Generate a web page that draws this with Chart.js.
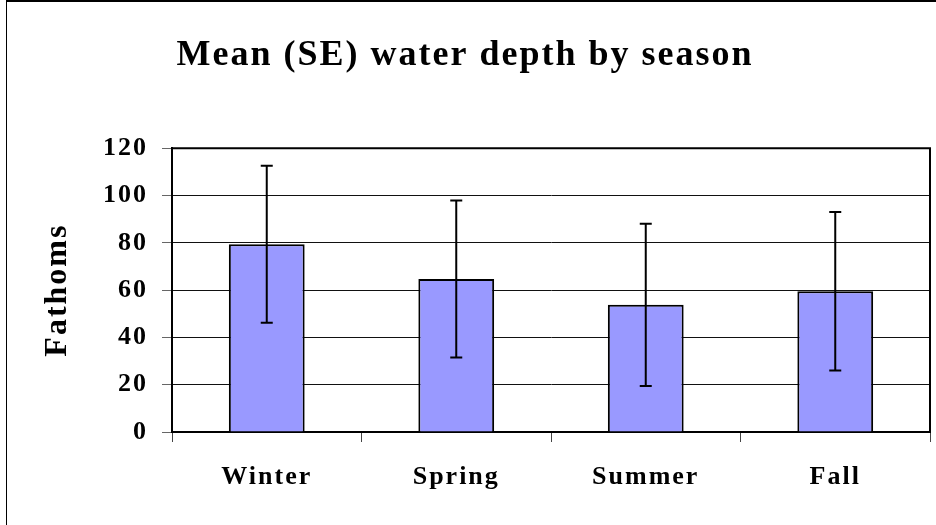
<!DOCTYPE html>
<html>
<head>
<meta charset="utf-8">
<script src="https://cdn.jsdelivr.net/npm/chart.js@4/dist/chart.umd.min.js"></script>
<style>
  html, body { margin: 0; padding: 0; background: #fff; }
  #wrap { position: relative; width: 936px; height: 525px; }
  #frame { position: absolute; left: 6px; top: 0; width: 930px; height: 525px;
           border-top: 2px solid #000; border-left: 1px solid #000; box-sizing: border-box; pointer-events: none; }
</style>
</head>
<body>
<div id="wrap">
  <canvas id="grafico" width="936" height="525"></canvas>
  <div id="frame"></div>
</div>
<script>
const estacoes = ['Winter', 'Spring', 'Summer', 'Fall'];
const medias = [79.4, 64.7, 53.8, 59.5];
const erroPadrao = [33.2, 33.2, 34.3, 33.5];
const ticksY = [0, 20, 40, 60, 80, 100, 120];

const fonteSerif = "'Liberation Serif', 'Times New Roman', serif";

// espacamento entre letras, o canvas perde isso a cada resize
const espacamento = {
  id: 'espacamento',
  beforeLayout(chart) { chart.ctx.letterSpacing = '2px'; },
  beforeDraw(chart) { chart.ctx.letterSpacing = '2px'; }
};

// moldura de cima e da direita da area do grafico
const moldura = {
  id: 'moldura',
  beforeDatasetsDraw(chart) {
    const { ctx, chartArea } = chart;
    ctx.save();
    ctx.strokeStyle = '#000';
    ctx.lineWidth = 2;
    ctx.beginPath();
    ctx.moveTo(chartArea.left, chartArea.top);
    ctx.lineTo(chartArea.right, chartArea.top);
    ctx.lineTo(chartArea.right, chartArea.bottom);
    ctx.stroke();
    ctx.restore();
  }
};

const barrasErro = {
  id: 'barrasErro',
  afterDatasetsDraw(chart) {
    const { ctx } = chart;
    const escalaY = chart.scales.y;
    const meta = chart.getDatasetMeta(0);
    ctx.save();
    ctx.strokeStyle = '#000';
    ctx.lineWidth = 2;
    meta.data.forEach((barra, i) => {
      const x = barra.x;
      const yTopo = escalaY.getPixelForValue(medias[i] + erroPadrao[i]);
      const yBase = escalaY.getPixelForValue(medias[i] - erroPadrao[i]);
      ctx.beginPath();
      ctx.moveTo(x, yTopo);
      ctx.lineTo(x, yBase);
      ctx.moveTo(x - 6, yTopo);
      ctx.lineTo(x + 6, yTopo);
      ctx.moveTo(x - 6, yBase);
      ctx.lineTo(x + 6, yBase);
      ctx.stroke();
    });
    ctx.restore();
  }
};

const ctx = document.getElementById('grafico').getContext('2d');
new Chart(ctx, {
  type: 'bar',
  data: {
    labels: estacoes,
    datasets: [{
      data: medias,
      backgroundColor: '#9999FF',
      borderColor: '#000',
      borderWidth: 2,
      barPercentage: 0.4,
      categoryPercentage: 1
    }]
  },
  options: {
    responsive: false,
    animation: false,
    layout: { padding: { left: 0, right: 6, top: 0, bottom: 0 } },
    plugins: {
      legend: { display: false },
      tooltip: { enabled: false },
      title: {
        display: true,
        text: 'Mean (SE) water depth by season',
        color: '#000',
        font: { family: fonteSerif, size: 36, weight: 'bold' },
        padding: { top: 34, bottom: 71 }
      }
    },
    scales: {
      x: {
        grid: { drawOnChartArea: false, offset: true, tickLength: 10, tickColor: '#444', tickWidth: 1 },
        border: { color: '#000', width: 2 },
        ticks: { color: '#000', padding: 20, font: { family: fonteSerif, size: 26, weight: 'bold' } },
        afterFit(scale) { scale.height = 93; }
      },
      y: {
        min: 0,
        max: 120,
        afterBuildTicks(scale) { scale.ticks = ticksY.map(v => ({ value: v })); },
        grid: { color: '#111', lineWidth: 1, tickLength: 10, tickColor: '#666' },
        border: { color: '#000', width: 2 },
        ticks: { color: '#000', padding: 14, font: { family: fonteSerif, size: 26, weight: 'bold' } },
        title: {
          display: true,
          text: 'Fathoms',
          color: '#000',
          font: { family: fonteSerif, size: 32, weight: 'bold' },
          padding: { top: 39, bottom: 0 }
        },
        afterFit(scale) { scale.width = 172; }
      }
    }
  },
  plugins: [espacamento, moldura, barrasErro]
});
</script>
</body>
</html>
